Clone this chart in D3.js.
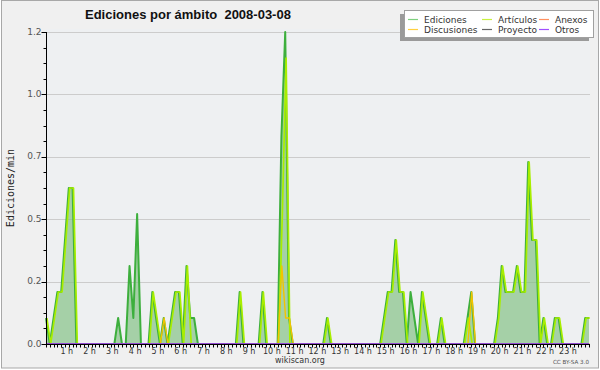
<!DOCTYPE html>
<html><head><meta charset="utf-8">
<script src="https://cdn.jsdelivr.net/npm/d3@7"></script>
<style>body{margin:0;background:#fff}svg{display:block}</style>
</head><body>
<svg id="c" width="600" height="370"></svg>
<script>
// ---- data (edits per minute, 10-minute bins, 00:00 .. 23:50) ----
const ediciones = [
0.1,0,0.1,0.2,0.2,0.4,0.6,0.6,0,0,
0,0,0,0,0,0,0,0,0,0.1,
0,0,0.3,0.1,0.5,0,0,0,0.2,0.1,
0,0.1,0,0.1,0.2,0.2,0,0.3,0.1,0.1,
0,0,0,0,0,0,0,0,0,0,
0,0.2,0,0,0,0,0,0.2,0,0,
0,0,0.8,1.2,0.1,0,0,0,0,0,
0,0,0,0,0.1,0,0,0,0,0,
0,0,0,0,0,0,0,0,0,0.1,
0.2,0.2,0.4,0.2,0.2,0,0.2,0.1,0,0.2,
0.1,0,0,0,0.1,0,0,0,0,0,
0,0.1,0.2,0,0,0,0,0,0,0.1,
0.3,0.2,0.2,0.2,0.3,0.2,0.2,0.7,0.4,0.4,
0,0.1,0,0,0.1,0.1,0,0,0,0,
0,0,0.1,0.1];
const articulos = [
0.1,0,0.1,0.2,0.2,0.4,0.6,0.6,0,0,
0,0,0,0,0,0,0,0,0,0,
0,0,0,0,0,0,0,0,0.2,0.1,
0,0,0,0.1,0.2,0.2,0,0.3,0,0,
0,0,0,0,0,0,0,0,0,0,
0,0.2,0,0,0,0,0,0.2,0,0,
0,0,0.5,1.1,0,0,0,0,0,0,
0,0,0,0,0.1,0,0,0,0,0,
0,0,0,0,0,0,0,0,0,0.1,
0.2,0.2,0.4,0.2,0.2,0,0,0,0,0.2,
0.1,0,0,0,0.1,0,0,0,0,0,
0,0.1,0,0,0,0,0,0,0,0.1,
0.3,0.2,0.2,0.2,0.3,0.2,0.2,0.7,0.4,0.4,
0,0.1,0,0,0.1,0.1,0,0,0,0,
0,0,0.1,0.1];
const anexos = [
0,0,0,0,0,0,0,0,0,0, 0,0,0,0,0,0,0,0,0,0, 0,0,0,0,0,0,0,0,0,0,
0,0,0,0,0,0,0,0,0,0, 0,0,0,0,0,0,0,0,0,0, 0,0,0,0,0,0,0,0,0,0,
0,0,0,0,0,0,0,0,0,0, 0,0,0,0,0,0,0,0,0,0, 0,0,0,0,0,0,0,0,0,0,
0,0,0,0,0,0,0,0,0,0, 0,0,0,0,0,0,0,0,0,0, 0,0,0,0,0,0,0,0,0,0,
0,0,0,0,0,0,0,0,0,0, 0,0,0,0,0,0,0,0,0,0, 0,0,0,0];
const discusiones = [
0,0,0,0,0,0,0,0,0,0, 0,0,0,0,0,0,0,0,0,0, 0,0,0,0,0,0,0,0,0,0,
0,0.1,0,0,0,0,0,0,0,0, 0,0,0,0,0,0,0,0,0,0, 0,0,0,0,0,0,0,0,0,0,
0,0,0.3,0.1,0.1,0,0,0,0,0, 0,0,0,0,0,0,0,0,0,0, 0,0,0,0,0,0,0,0,0,0,
0,0,0,0,0,0,0,0,0,0, 0,0,0,0,0,0,0,0,0,0, 0,0,0.2,0,0,0,0,0,0,0,
0,0,0,0,0,0,0,0,0,0, 0,0,0,0,0,0,0,0,0,0, 0,0,0,0];
const proyecto = [
0,0,0,0,0,0,0,0,0,0, 0,0,0,0,0,0,0,0,0,0, 0,0,0,0,0,0,0,0,0,0,
0,0,0,0,0,0,0,0,0,0, 0,0,0,0,0,0,0,0,0,0, 0,0,0,0,0,0,0,0,0,0,
0,0,0,0,0,0,0,0,0,0, 0,0,0,0,0,0,0,0,0,0, 0,0,0,0,0,0,0,0,0,0,
0,0,0,0,0,0,0,0,0,0, 0,0,0,0,0,0,0,0,0,0, 0,0,0,0,0,0,0,0,0,0,
0,0,0,0,0,0,0,0,0,0, 0,0,0,0,0,0,0,0,0,0, 0,0,0,0];
const otros = [
0,0,0,0,0,0,0,0,0,0, 0,0,0,0,0,0,0,0,0,0, 0,0,0,0,0,0,0,0,0,0,
0,0,0,0,0,0,0,0,0,0, 0,0,0,0,0,0,0,0,0,0, 0,0,0,0,0,0,0,0,0,0,
0,0,0,0,0,0,0,0,0,0, 0,0,0,0,0,0,0,0,0,0, 0,0,0,0,0,0,0,0,0,0,
0,0,0,0,0,0,0,0,0,0, 0,0,0,0,0,0,0,0,0,0, 0,0,0,0,0,0,0,0,0,0,
0,0,0,0,0,0,0,0,0,0, 0,0,0,0,0,0,0,0,0,0, 0,0,0,0];
const seriesNames = ["Ediciones","Artículos","Anexos","Discusiones","Proyecto","Otros"];
const hourLabels = ["1 h","2 h","3 h","4 h","5 h","6 h","7 h","8 h","9 h","10 h","11 h","12 h",
  "13 h","14 h","15 h","16 h","17 h","18 h","19 h","20 h","21 h","22 h","23 h"];
const yTicks = [0, 0.24, 0.48, 0.72, 0.96, 1.2];
const titleText = "Ediciones por ámbito  2008-03-08";
const yTitle = "Ediciones/min";

// ---- styles ----
const colors = {
  "Ediciones":"#3daf3d", "Artículos":"#a8ee00", "Anexos":"#ff7f3f",
  "Discusiones":"#f2c400", "Proyecto":"#555555", "Otros":"#9a40ff"
};
const swatch = {
  "Ediciones":"#7fd07f", "Artículos":"#c8f040", "Anexos":"#ff9060",
  "Discusiones":"#ffd040", "Proyecto":"#666666", "Otros":"#a050ff"
};
const shiftX = {"Ediciones":0,"Artículos":0.9,"Anexos":0,"Discusiones":0.4,"Proyecto":0,"Otros":0};
const dataBy = {"Ediciones":ediciones,"Artículos":articulos,"Anexos":anexos,
  "Discusiones":discusiones,"Proyecto":proyecto,"Otros":otros};

const svg = d3.select("#c");
const L = 46, R = 589, T = 32, B = 344;
const x = d3.scaleLinear().domain([0, ediciones.length - 1]).range([L, R]);
const y = d3.scaleLinear().domain([0, 1.2]).range([B, T]);

// frame
svg.append("rect").attr("x",1.5).attr("y",0.5).attr("width",597).attr("height",367.5)
  .attr("fill","#f0f0f0").attr("stroke","#a8a8a8");
// plot background
svg.append("rect").attr("x",L).attr("y",29).attr("width",R - L + 1).attr("height",B - 29)
  .attr("fill","#eef0f2");
// grid
svg.append("g").selectAll("line").data(yTicks.slice(1)).join("line")
  .attr("x1",L).attr("x2",R + 1).attr("y1",d=>Math.round(y(d))+0.5).attr("y2",d=>Math.round(y(d))+0.5)
  .attr("stroke","#cccccc").attr("stroke-width",1);

// area for Ediciones
const idx = d3.range(ediciones.length);
svg.append("path").datum(idx)
  .attr("d", d3.area().x(i=>x(i)).y0(B).y1(i=>y(ediciones[i])))
  .attr("fill","#7fbf7f").attr("fill-opacity",0.66);

// lines
const lineOrder = ["Ediciones","Artículos","Anexos","Discusiones","Proyecto","Otros"];
lineOrder.forEach(n=>{
  const arr = dataBy[n];
  svg.append("path").datum(idx)
    .attr("d", d3.line().x(i=>x(i)).y(i=>y(arr[i])))
    .attr("transform",`translate(${shiftX[n]},0)`)
    .attr("fill","none").attr("stroke",colors[n])
    .attr("stroke-width", n==="Ediciones" ? 2 : (n==="Artículos" ? 1.7 : 1.4))
    .attr("stroke-linejoin","round");
});

// y axis
const yMinor = d3.range(0, 21).map(k => k * 0.06);
const gy = svg.append("g").attr("transform",`translate(${L+0.5},0)`);
gy.append("line").attr("y1",T).attr("y2",B).attr("stroke","#000");
gy.selectAll("line.mi").data(yMinor).join("line").attr("class","mi")
  .attr("x1",-3).attr("x2",0).attr("y1",d=>Math.round(y(d))+0.5).attr("y2",d=>Math.round(y(d))+0.5).attr("stroke","#000");
gy.selectAll("line.ma").data(yTicks).join("line").attr("class","ma")
  .attr("x1",-5).attr("x2",0).attr("y1",d=>Math.round(y(d))+0.5).attr("y2",d=>Math.round(y(d))+0.5).attr("stroke","#000");
gy.selectAll("text").data(yTicks).join("text")
  .attr("x",-5).attr("y",d=>y(d)+2.5).attr("text-anchor","end")
  .attr("font-family","DejaVu Sans").attr("font-size",9).attr("fill","#555")
  .text(d3.format(".1f"));

// x axis
const gx = svg.append("g").attr("transform",`translate(0,${B+0.5})`);
gx.append("line").attr("x1",L).attr("x2",R+1).attr("stroke","#000");
gx.selectAll("line.t").data(idx).join("line").attr("class","t")
  .attr("x1",d=>Math.round(x(d))+0.5).attr("x2",d=>Math.round(x(d))+0.5).attr("y1",0).attr("y2",3).attr("stroke","#000");
gx.selectAll("text").data(hourLabels).join("text")
  .attr("x",(d,k)=>x((k+1)*6)-2).attr("y",9.5).attr("text-anchor","middle")
  .attr("font-family","DejaVu Sans").attr("font-size",8).attr("fill","#333")
  .text(d=>d);

// title
svg.append("text").attr("x",85).attr("y",18.5)
  .attr("font-family","Liberation Sans").attr("font-weight","bold").attr("font-size",13)
  .attr("fill","#111").attr("xml:space","preserve").style("white-space","pre").text(titleText);
// y title
svg.append("text").attr("transform","translate(13.5,188) rotate(-90)").attr("text-anchor","middle")
  .attr("font-family","DejaVu Sans Mono").attr("font-size",10).attr("fill","#222").text(yTitle);

// legend
svg.append("rect").attr("x",400).attr("y",14).attr("width",189).attr("height",27).attr("fill","#9a9a9a");
svg.append("rect").attr("x",404.5).attr("y",10.5).attr("width",189).attr("height",27)
  .attr("fill","#ffffff").attr("stroke","#a0a0a0");
const legPos = [[408,19.5],[482,19.5],[539,19.5],[408,29.5],[482,29.5],[539,29.5]];
const legOrder = ["Ediciones","Artículos","Anexos","Discusiones","Proyecto","Otros"];
const lg = svg.append("g").selectAll("g").data(legOrder).join("g")
  .attr("transform",(d,k)=>`translate(${legPos[k][0]},${legPos[k][1]})`);
lg.append("line").attr("x1",0).attr("x2",10).attr("stroke",d=>swatch[d]).attr("stroke-width",1.2);
lg.append("text").attr("x",16).attr("y",3.3).attr("font-family","DejaVu Sans").attr("font-size",9)
  .attr("fill","#333").text(d=>d);

// footer
svg.append("text").attr("x",300).attr("y",363).attr("text-anchor","middle")
  .attr("font-family","DejaVu Sans").attr("font-size",8).attr("fill","#333").text("wikiscan.org");
svg.append("text").attr("x",589).attr("y",364).attr("text-anchor","end")
  .attr("font-family","DejaVu Sans").attr("font-size",5.6).attr("fill","#555").text("CC BY-SA 3.0");
</script>
</body></html>
